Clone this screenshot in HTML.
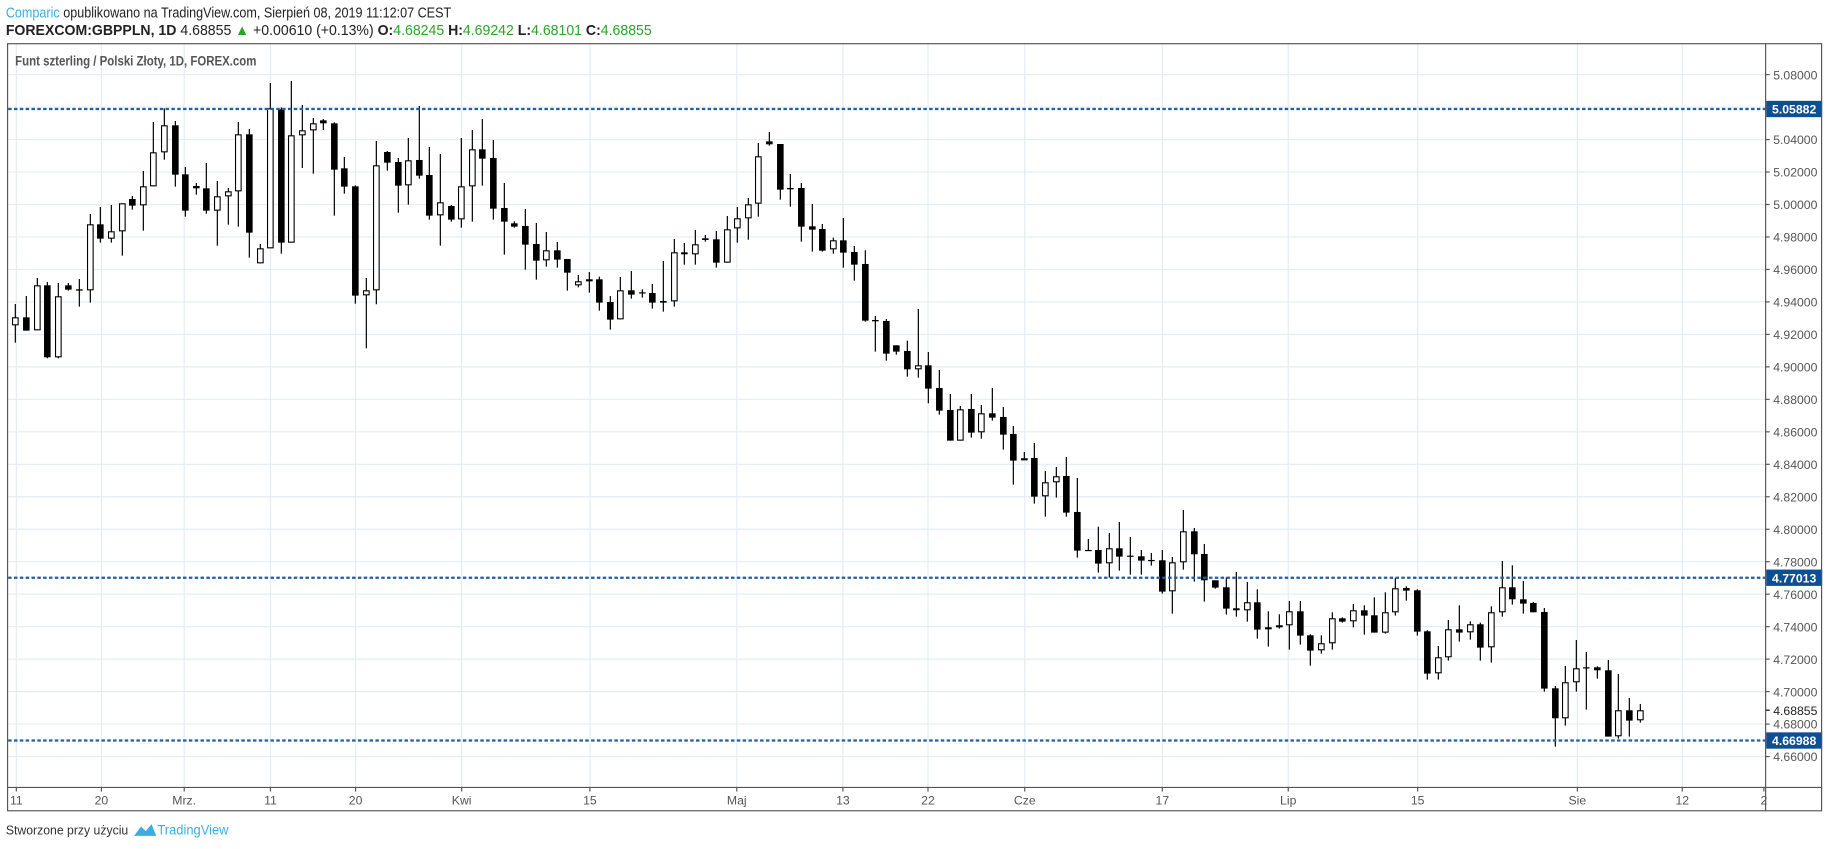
<!DOCTYPE html>
<html><head><meta charset="utf-8">
<style>
html,body{margin:0;padding:0;background:#fff;}
svg{display:block;font-family:"Liberation Sans",sans-serif;}
</style></head>
<body>
<svg id="s" width="1828" height="849" viewBox="0 0 1568 728.3" preserveAspectRatio="none" xmlns="http://www.w3.org/2000/svg">
<rect x="0" y="0" width="1568" height="729" fill="#fff"/>
<text x="5" y="15" font-size="12.5" fill="#222" textLength="382" lengthAdjust="spacingAndGlyphs"><tspan fill="#3aaee0">Comparic</tspan> opublikowano na TradingView.com, Sierpień 08, 2019 11:12:07 CEST</text>
<text x="5" y="30" font-size="12.5" fill="#222" textLength="554" lengthAdjust="spacingAndGlyphs"><tspan font-weight="bold">FOREXCOM:GBPPLN, 1D</tspan>  4.68855 <tspan fill="#2aa52a">▲</tspan> +0.00610 (+0.13%) <tspan font-weight="bold">O:</tspan><tspan fill="#2aa52a">4.68245</tspan> <tspan font-weight="bold">H:</tspan><tspan fill="#2aa52a">4.69242</tspan> <tspan font-weight="bold">L:</tspan><tspan fill="#2aa52a">4.68101</tspan> <tspan font-weight="bold">C:</tspan><tspan fill="#2aa52a">4.68855</tspan></text>
<g id="grid"></g>
<g id="candles" transform="scale(0.85777)"></g>
<g id="over"></g>
<rect x="6.5" y="37.5" width="1556" height="658" fill="none" stroke="#555" stroke-width="1"/>
<line x1="1514.5" y1="37" x2="1514.5" y2="696" stroke="#555"/>
<line x1="6" y1="675.5" x2="1563" y2="675.5" stroke="#555"/>
<text x="13" y="56" font-size="12" fill="#555" font-weight="bold" textLength="207" lengthAdjust="spacingAndGlyphs">Funt szterling / Polski Złoty, 1D, FOREX.com</text>
<g id="axis" font-size="10.5" fill="#555"></g>
<text x="5" y="716" font-size="11" fill="#333" textLength="105" lengthAdjust="spacingAndGlyphs">Stworzone przy użyciu</text>
<path d="M115 717 l6 -8 l4 4 l5 -6 l4 10 z" fill="#3aaee0"/>
<text x="135" y="716" font-size="12" fill="#3aaee0" textLength="61" lengthAdjust="spacingAndGlyphs">TradingView</text>
</svg>
<script>
var NS="http://www.w3.org/2000/svg";
function el(p,t,a,txt){var e=document.createElementNS(NS,t);for(var k in a)e.setAttribute(k,a[k]);if(txt!==undefined)e.textContent=txt;document.getElementById(p).appendChild(e);return e;}
function yp(p){return 64+(5.08-p)/0.02*27.857;}
for(var i=0;i<=22;i++){var p=5.08-i*0.02;var y=yp(p);if(y<40||y>673)continue;
 el("grid","line",{x1:7,x2:1514,y1:y,y2:y,stroke:"#e3edf3","stroke-width":1});
 el("axis","line",{x1:1514,x2:1518,y1:y,y2:y,stroke:"#555"});
 var skip=(Math.abs(p-5.06)<0.001);
 if(!skip) el("axis","text",{x:1521,y:y+4},p.toFixed(5));}
var tl=[[14,"11"],[87,"20"],[158,"Mrz."],[232,"11"],[305,"20"],[396,"Kwi"],[506,"15"],[632,"Maj"],[723,"13"],[796,"22"],[879,"Cze"],[997,"17"],[1105,"Lip"],[1216,"15"],[1353,"Sie"],[1443,"12"],[1513,"2"]];
tl.forEach(function(t){ if(t[0]<1512) el("grid","line",{x1:t[0],x2:t[0],y1:38,y2:675,stroke:"#e3edf3"});
 el("axis","line",{x1:t[0],x2:t[0],y1:675,y2:679,stroke:"#555"});
 el("axis","text",{x:t[0],y:690,"text-anchor":"middle"},t[1]);});
var G=[
[0,80,[[46,712,736,672,788,0],[79,712,752,648,752,1],[112,616,751,594,751,0],[142,616,832,606,835,1],[175,649,832,609,835,0],[205,616,629,609,632,1],[238,628,632,597,680,1],[271,433,631,402,668,0],[301,433,476,381,488,1],[334,454,476,375,488,0],[367,370,454,370,527,0],[397,357,377,348,389,1],[430,319,376,273,452,0],[460,217,319,126,319,0],[493,136,217,85,239,0],[526,136,284,123,320,1],[556,283,392,261,410,1],[589,318,325,309,344,1],[619,325,392,249,401,1],[652,349,392,303,497,0],[685,334,349,324,434,0],[715,163,334,126,440,0],[748,163,458,147,533,1],[781,505,550,492,550,0],[811,85,505,9,505,0],[844,88,488,82,521,1],[874,166,488,3,488,0],[907,151,166,75,264,0],[940,130,151,114,281,0],[970,121,130,117,150,1],[1003,130,269,127,407,1],[1033,265,320,231,341,1],[1066,319,647,316,671,1]]],
[350,80,[[49,631,646,594,805,0],[79,256,631,183,673,0],[112,216,248,213,272,1],[145,246,317,234,398,1],[175,241,316,174,374,0],[208,240,287,78,296,1],[238,285,407,201,419,1],[271,367,406,222,497,0],[304,378,419,375,425,1],[334,319,418,174,443,0],[367,208,319,150,425,0],[397,208,236,117,317,1],[430,234,386,180,419,1],[463,384,425,309,524,1],[493,430,440,424,443,1],[526,438,494,387,569,1],[559,492,542,429,599,1],[589,511,541,456,560,0],[622,511,539,486,563,1],[652,537,578,537,632,1],[685,604,616,585,622,0],[718,598,604,576,638,0],[748,598,668,590,692,1],[781,666,719,648,749,1],[811,631,718,591,718,0],[844,631,644,573,656,1],[877,637,640,628,653,1],[907,639,668,612,686,1],[940,663,668,543,695,1],[973,517,664,477,680,0],[1003,517,523,489,554,1],[1036,493,523,450,554,0],[1066,475,480,465,485,1]]],
[650,100,[[199,418,488,393,503,1],[232,388,488,348,488,0],[262,355,385,321,428,0],[295,313,355,294,419,0],[325,169,311,129,350,0],[358,124,133,96,137,1],[391,132,269,132,299,1],[421,264,268,222,320,1],[454,264,380,249,425,1],[487,379,389,312,455,1],[517,387,452,372,455,1],[550,421,448,413,461,0],[580,421,458,354,503,1],[613,456,494,438,542,1],[646,492,662,451,665,1],[676,660,664,648,755,1],[709,663,761,657,782,1],[739,736,755,736,764,1],[772,753,808,722,830,1],[805,796,808,627,833,0],[835,796,866,756,910,1]]],
[930,380,[[28,24,92,-30,104,1],[61,90,182,42,182,1],[91,88,182,78,182,0],[124,87,158,42,173,1],[154,100,157,75,176,0],[187,100,113,24,122,1],[220,111,164,81,209,1],[250,162,242,138,314,1],[283,235,241,216,241,0],[313,234,350,189,371,1],[346,307,349,273,410,0],[379,289,307,261,353,0],[409,288,398,231,410,1],[442,396,512,294,533,1],[475,510,512,477,512,1],[505,510,551,440,578,1],[538,505,550,459,593,0],[568,505,530,426,572,1],[601,527,530,471,584,1],[634,529,542,510,584,1],[664,540,542,519,557,1],[697,541,635,510,641,1],[727,547,634,531,701,0],[760,454,547,390,569,0],[793,454,523,444,605,1],[823,522,601,492,665,1],[856,601,623,601,626,1],[889,622,686,592,704,1]]],
[1220,500,[[49,325,331,216,350,1],[82,307,331,246,365,0],[112,307,389,268,416,1],[145,382,388,334,440,0],[178,376,382,343,386,0],[208,334,376,303,449,0],[241,334,407,303,434,1],[271,406,452,403,497,1],[304,430,451,406,461,0],[337,355,430,337,449,0],[367,355,365,352,368,1],[400,331,364,312,382,0],[433,331,347,316,404,1],[463,346,398,292,398,1],[496,337,398,277,401,0],[526,265,337,234,347,0],[559,264,272,259,302,1],[592,271,395,268,407,1],[622,394,521,391,539,1],[655,472,520,438,539,0],[685,388,472,360,482,0],[718,388,398,316,425,1],[751,373,397,364,419,0],[781,373,443,368,482,1],[814,337,442,319,488,0],[847,262,337,183,350,0],[877,262,298,196,314,1]]],
[1480,540,[[130,178,191,123,221,1],[160,189,217,186,217,1],[193,216,446,204,455,1],[226,445,535,438,620,1],[256,427,535,378,557,0],[289,385,427,300,455,0],[319,382,385,336,509,1],[352,382,391,379,416,1],[385,391,590,360,590,1],[415,511,589,402,596,0],[448,511,542,474,590,1],[481,511,541,492,548,0]]]
];
G.forEach(function(g){var ox=g[0],oy=g[1];g[2].forEach(function(c){
 var x=ox+c[0]/3,bt=oy+c[1]/3,bb=oy+c[2]/3,wt=oy+c[3]/3,wb=oy+c[4]/3;
 el("candles","line",{x1:x,x2:x,y1:wt,y2:wb,stroke:"#000","stroke-width":1.2});
 var h=Math.max(bb-bt,1.2);
 if(c[5]) el("candles","rect",{x:x-3.3,y:bt,width:6.6,height:h,fill:"#000"});
 else el("candles","rect",{x:x-2.8,y:bt+0.5,width:5.6,height:Math.max(h-1,0.5),fill:"#fff",stroke:"#000","stroke-width":1.1});
});});
[[5.05882,"5.05882"],[4.77013,"4.77013"],[4.66988,"4.66988"]].forEach(function(l){var y=yp(l[0]);
 el("over","line",{x1:7,x2:1514,y1:y,y2:y,stroke:"#1f5fa6","stroke-width":2,"stroke-dasharray":"3 2"});
 el("over","rect",{x:1515,y:y-7,width:48,height:14,fill:"#0e4f94"});
 el("over","text",{x:1520,y:y+4,"font-size":"10.5","font-weight":"bold",fill:"#fff"},l[1]);});
var yc=yp(4.68855);
el("over","line",{x1:1514,x2:1518,y1:yc,y2:yc,stroke:"#000"});
el("over","text",{x:1521,y:yc+4,"font-size":"10.5",fill:"#222"},"4.68855");
</script>
</body></html>
